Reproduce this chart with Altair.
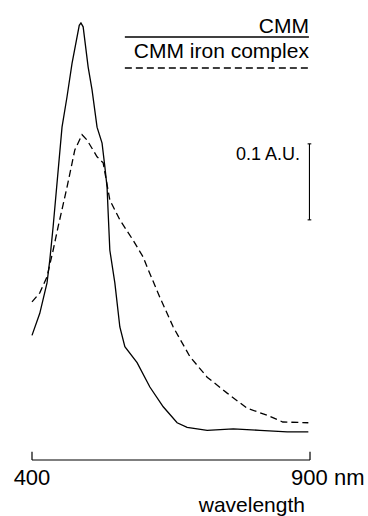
import altair as alt
import pandas as pd

# ---- data ----
wl_cmm = [400, 414, 427, 432, 438, 454, 463, 472, 485, 488, 492, 501, 508, 517, 526, 531,
          535, 537, 540, 549, 558, 567, 589, 612, 636, 661, 679, 715, 762, 810, 859, 897]
abs_cmm = [0.164, 0.193, 0.233, 0.263, 0.307, 0.438, 0.478, 0.522, 0.572, 0.575, 0.570, 0.517,
           0.487, 0.438, 0.417, 0.386, 0.359, 0.325, 0.276, 0.233, 0.175, 0.149, 0.128, 0.096,
           0.070, 0.049, 0.043, 0.039, 0.041, 0.039, 0.037, 0.037]

wl_fe = [400, 414, 427, 438, 447, 463, 477, 490, 499, 517, 528, 540, 558, 582, 600, 607,
         630, 654, 684, 715, 751, 787, 823, 851, 897]
abs_fe = [0.208, 0.220, 0.241, 0.276, 0.307, 0.359, 0.408, 0.428, 0.421, 0.399, 0.391, 0.342,
          0.316, 0.289, 0.267, 0.254, 0.214, 0.175, 0.136, 0.109, 0.088, 0.068, 0.059, 0.050,
          0.049]

axis_ends = [400, 900]
axis_labels = ["400", "900 nm"]
axis_title = "wavelength"
legend_labels = ["CMM", "CMM iron complex"]
scale_bar = [0.316, 0.416]
scale_label = "0.1 A.U."

FONT = "Liberation Sans"

xs = alt.Scale(domain=[342.45, 1004.3], nice=False, zero=False)
ys = alt.Scale(domain=[-0.0737, 0.6053], nice=False, zero=False)

def X(f="x"):
    return alt.X(f"{f}:Q", scale=xs, axis=None)

def Y(f="y"):
    return alt.Y(f"{f}:Q", scale=ys, axis=None)

df_cmm = pd.DataFrame({"x": wl_cmm, "y": abs_cmm})
df_fe = pd.DataFrame({"x": wl_fe, "y": abs_fe})

line_cmm = alt.Chart(df_cmm).mark_line(color="black", strokeWidth=1.3, clip=False).encode(
    x=X(), y=Y(), order="x:Q")
line_fe = alt.Chart(df_fe).mark_line(color="black", strokeWidth=1.3, strokeDash=[7, 4], clip=False).encode(
    x=X(), y=Y(), order="x:Q")

# x axis bracket
axis_df = pd.DataFrame({"x": [axis_ends[0]], "x2": [axis_ends[1]], "y": [0.0]})
axis_line = alt.Chart(axis_df).mark_rule(color="black", strokeWidth=1.2).encode(
    x=X(), x2="x2:Q", y=Y())
tick_df = pd.DataFrame({"x": axis_ends, "y": [0.0, 0.0], "y2": [0.0108, 0.0108]})
ticks = alt.Chart(tick_df).mark_rule(color="black", strokeWidth=1.2).encode(
    x=X(), y=Y(), y2="y2:Q")

lab_df = pd.DataFrame({"x": [400, 866], "y": [-0.0329, -0.0329], "t": axis_labels,
                       "a": ["center", "left"]})
lab400 = alt.Chart(lab_df.iloc[[0]]).mark_text(font=FONT, fontSize=22, align="center",
                                               baseline="alphabetic", color="black").encode(
    x=X(), y=Y(), text="t:N")
lab900 = alt.Chart(lab_df.iloc[[1]]).mark_text(font=FONT, fontSize=22, align="left",
                                               baseline="alphabetic", color="black").encode(
    x=X(), y=Y(), text="t:N")
title_df = pd.DataFrame({"x": [891], "y": [-0.0684], "t": [axis_title]})
title = alt.Chart(title_df).mark_text(font=FONT, fontSize=21, align="right",
                                      baseline="alphabetic", color="black").encode(
    x=X(), y=Y(), text="t:N")

# legend
leg_txt_df = pd.DataFrame({"x": [898, 898], "y": [0.5618, 0.529], "t": legend_labels})
leg_txt = alt.Chart(leg_txt_df).mark_text(font=FONT, fontSize=21, align="right",
                                          baseline="alphabetic", color="black").encode(
    x=X(), y=Y(), text="t:N")
leg_solid = alt.Chart(pd.DataFrame({"x": [567], "x2": [898], "y": [0.5566]})).mark_rule(
    color="black", strokeWidth=1.3).encode(x=X(), x2="x2:Q", y=Y())
leg_dash = alt.Chart(pd.DataFrame({"x": [567], "x2": [898], "y": [0.5158]})).mark_rule(
    color="black", strokeWidth=1.3, strokeDash=[7, 4]).encode(x=X(), x2="x2:Q", y=Y())

# scale bar
sb_df = pd.DataFrame({"x": [899], "y": [scale_bar[0]], "y2": [scale_bar[1]]})
sb = alt.Chart(sb_df).mark_rule(color="black", strokeWidth=1.1).encode(x=X(), y=Y(), y2="y2:Q")
cap_df = pd.DataFrame({"x": [895.7, 895.7], "x2": [902.3, 902.3], "y": scale_bar})
caps = alt.Chart(cap_df).mark_rule(color="black", strokeWidth=1.1).encode(x=X(), x2="x2:Q", y=Y())
sb_lab = alt.Chart(pd.DataFrame({"x": [882], "y": [0.3947], "t": [scale_label]})).mark_text(
    font=FONT, fontSize=18, align="right", baseline="alphabetic", color="black").encode(
    x=X(), y=Y(), text="t:N")

chart = alt.layer(
    line_fe, line_cmm, axis_line, ticks, lab400, lab900, title,
    leg_txt, leg_solid, leg_dash, sb, caps, sb_lab
).properties(
    width=368, height=516,
    autosize=alt.AutoSizeParams(type="none"),
    padding=0,
    background="white",
).configure_view(stroke=None)

chart.save("out.html", embed_options={"renderer": "svg", "actions": False})
